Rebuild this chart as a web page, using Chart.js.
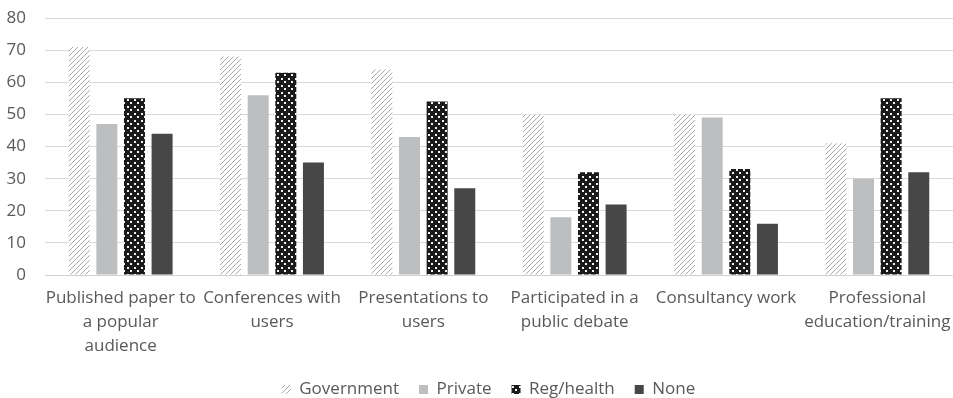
<!DOCTYPE html>
<html>
<head>
<meta charset="utf-8">
<script src="https://cdn.jsdelivr.net/npm/chart.js@4"></script>
<style>
  html, body { margin: 0; padding: 0; background: #fff; }
  #wrap { width: 953px; height: 398px; }
</style>
</head>
<body>
<div id="wrap"><canvas id="chart" width="953" height="398"></canvas></div>
<script>
// categories (multi-line labels as shown under the axis)
const categories = [
    ["Published paper to", "a popular", "audience"],
    ["Conferences with", "users"],
    ["Presentations to", "users"],
    ["Participated in a", "public debate"],
    ["Consultancy work"],
    ["Professional", "education/training"]
];

const government = [71, 68, 64, 50, 50, 41];
const privateSector = [47, 56, 43, 18, 49, 30];
const regHealth = [55, 63, 54, 32, 33, 55];
const noneSector = [44, 35, 27, 22, 16, 32];

const seriesNames = ["Government", "Private", "Reg/health", "None"];
const yTicks = [0, 10, 20, 30, 40, 50, 60, 70, 80];

// hatch pattern for Government
function makeHatch() {
    const c = document.createElement('canvas');
    c.width = 5; c.height = 5;
    const g = c.getContext('2d');
    g.fillStyle = '#ffffff';
    g.fillRect(0, 0, 5, 5);
    g.fillStyle = '#a8a8a8';
    g.fillRect(4, 0, 1, 1);
    g.fillRect(3, 1, 1, 1);
    g.fillRect(2, 2, 1, 1);
    g.fillRect(1, 3, 1, 1);
    g.fillRect(0, 4, 1, 1);
    return g.createPattern(c, 'repeat');
}

// dotted pattern for Reg/health
function makeDots() {
    const c = document.createElement('canvas');
    c.width = 7; c.height = 7;
    const g = c.getContext('2d');
    g.fillStyle = '#1a1a1a';
    g.fillRect(0, 0, 7, 7);
    g.fillStyle = '#f2f2f2';
    g.fillRect(1, 1, 2, 2);
    g.fillRect(4, 4, 2, 2);
    return g.createPattern(c, 'repeat');
}

const ctx = document.getElementById('chart').getContext('2d');
const hatch = makeHatch();
const dots = makeDots();

const fontFamily = "'Open Sans', 'DejaVu Sans', sans-serif";

// legend in the original sits a little right of centre
const legendShift = {
    id: 'legendShift',
    afterLayout(chart) {
        const lg = chart.legend;
        if (lg) {
            lg.left += 12;
            lg.right += 12;
        }
    }
};

new Chart(ctx, {
    type: 'bar',
    data: {
        labels: categories,
        datasets: [
            { label: seriesNames[0], data: government, backgroundColor: hatch },
            { label: seriesNames[1], data: privateSector, backgroundColor: '#bdbec0' },
            { label: seriesNames[2], data: regHealth, backgroundColor: dots },
            { label: seriesNames[3], data: noneSector, backgroundColor: '#474747' }
        ]
    },
    plugins: [legendShift],
    options: {
        responsive: false,
        animation: false,
        datasets: {
            bar: {
                categoryPercentage: 0.73,
                barPercentage: 0.76
            }
        },
        layout: {
            padding: { top: 0, right: 0, left: 0, bottom: -10 }
        },
        plugins: {
            legend: {
                position: 'bottom',
                labels: {
                    font: { family: fontFamily, size: 17 },
                    color: '#595959',
                    boxWidth: 9,
                    boxHeight: 9,
                    padding: 20
                }
            },
            tooltip: { enabled: false }
        },
        scales: {
            x: {
                grid: { display: false, drawTicks: false },
                border: { color: '#d0d0d0', width: 1 },
                ticks: {
                    font: { family: fontFamily, size: 17, lineHeight: 1.41 },
                    color: '#595959',
                    maxRotation: 0,
                    autoSkip: false,
                    padding: 11
                },
                // let the labels run to the edge and sit closer to the legend
                afterFit: axis => {
                    axis.paddingLeft = 0;
                    axis.paddingRight = 0;
                    axis.height -= 8;
                }
            },
            y: {
                min: 0,
                max: 80,
                afterBuildTicks: axis => {
                    axis.ticks = yTicks.map(v => ({ value: v }));
                },
                afterFit: axis => {
                    axis.width = 45;
                    axis.paddingTop = 18;
                    axis.paddingBottom = 0;
                },
                grid: { color: '#d9d9d9', drawTicks: false, lineWidth: 1 },
                border: { display: false },
                ticks: {
                    font: { family: fontFamily, size: 17 },
                    color: '#595959',
                    padding: 19
                }
            }
        }
    }
});
</script>
</body>
</html>
